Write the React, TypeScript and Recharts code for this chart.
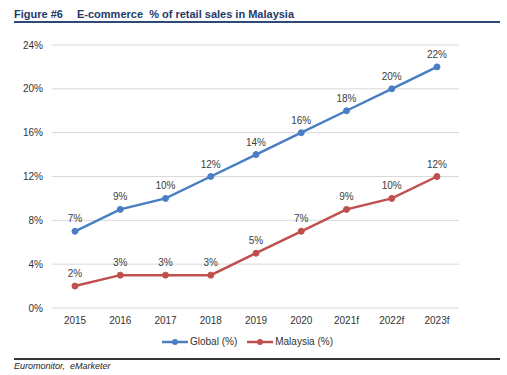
import React from 'react';
import { LineChart, Line, XAxis, YAxis, CartesianGrid, LabelList } from 'recharts';

const categories = ['2015', '2016', '2017', '2018', '2019', '2020', '2021f', '2022f', '2023f'];
const globalValues = [7, 9, 10, 12, 14, 16, 18, 20, 22];
const malaysiaValues = [2, 3, 3, 3, 5, 7, 9, 10, 12];
const yTicks = [0, 4, 8, 12, 16, 20, 24];

const data = categories.map((c, i) => ({ year: c, global: globalValues[i], malaysia: malaysiaValues[i] }));

const FONT = '"Liberation Sans", Arial, sans-serif';
const BLUE = '#4A7EC4';
const RED = '#C0504D';

const renderLegend = (props: any) => {
  const { payload } = props;
  return (
    <div style={{ display: 'flex', justifyContent: 'center', gap: 10, fontSize: 10, fontFamily: FONT, color: '#333' }}>
      {(payload || []).map((p: any) => (
        <div key={p.value} style={{ display: 'flex', alignItems: 'center' }}>
          <svg width={26} height={8} style={{ marginRight: 2 }}>
            <line x1={0} y1={4} x2={26} y2={4} stroke={p.color} strokeWidth={2.5} />
            <circle cx={13} cy={4} r={3} fill={p.color} />
          </svg>
          <span>{p.value}</span>
        </div>
      ))}
    </div>
  );
};

export default function App() {
  return (
    <div style={{ position: 'fixed', left: 0, top: 0, width: 507, height: 375, background: '#fff', fontFamily: FONT }}>
      <div style={{ position: 'absolute', left: 14, top: 8, fontSize: 11, fontWeight: 'bold', color: '#1F3B6B', whiteSpace: 'nowrap' }}>
        <span>Figure #6</span>
        <span style={{ position: 'absolute', left: 63 }}>E-commerce&nbsp; % of retail sales in Malaysia</span>
      </div>
      <div style={{ position: 'absolute', left: 14, top: 21, width: 486, height: 2, background: '#2F4B75' }} />
      <div style={{ position: 'absolute', left: 0, top: 0 }}>
        <LineChart width={507} height={375} data={data} margin={{ top: 45, right: 48, bottom: 37, left: 0 }}>
          <CartesianGrid vertical={false} stroke="#D9D9D9" strokeWidth={1} />
          <XAxis
            dataKey="year"
            height={30}
            axisLine={false}
            tickLine={false}
            tickSize={0}
            tickMargin={9}
            padding={{ left: 23, right: 22 }}
            tick={{ fontSize: 10, fill: '#333', fontFamily: FONT }}
            interval={0}
          />
          <YAxis
            width={52}
            domain={[0, 24]}
            ticks={yTicks}
            axisLine={false}
            tickLine={false}
            tickSize={0}
            tickMargin={9}
            tickFormatter={(v: number) => `${v}%`}
            tick={{ fontSize: 10, fill: '#333', fontFamily: FONT }}
          />
          <Line
            name="Global (%)"
            dataKey="global"
            stroke={BLUE}
            strokeWidth={2.5}
            dot={{ r: 3, fill: BLUE, stroke: BLUE, strokeWidth: 1 }}
            isAnimationActive={false}
          >
            <LabelList dataKey="global" position="top" offset={9} formatter={(v: number) => `${v}%`} style={{ fontSize: 10, fill: '#404040', fontFamily: FONT }} />
          </Line>
          <Line
            name="Malaysia (%)"
            dataKey="malaysia"
            stroke={RED}
            strokeWidth={2.5}
            dot={{ r: 3, fill: RED, stroke: RED, strokeWidth: 1 }}
            isAnimationActive={false}
          >
            <LabelList dataKey="malaysia" position="top" offset={9} formatter={(v: number) => `${v}%`} style={{ fontSize: 10, fill: '#404040', fontFamily: FONT }} />
          </Line>
        </LineChart>
      </div>
      <div style={{ position: 'absolute', left: 0, top: 336, width: 495 }}>
        {renderLegend({
          payload: [
            { value: 'Global (%)', color: BLUE },
            { value: 'Malaysia (%)', color: RED },
          ],
        })}
      </div>
      <div style={{ position: 'absolute', left: 14, top: 358, width: 486, height: 1.5, background: '#333' }} />
      <div style={{ position: 'absolute', left: 14, top: 361, fontSize: 9, fontStyle: 'italic', color: '#222' }}>Euromonitor,&nbsp; eMarketer</div>
    </div>
  );
}
